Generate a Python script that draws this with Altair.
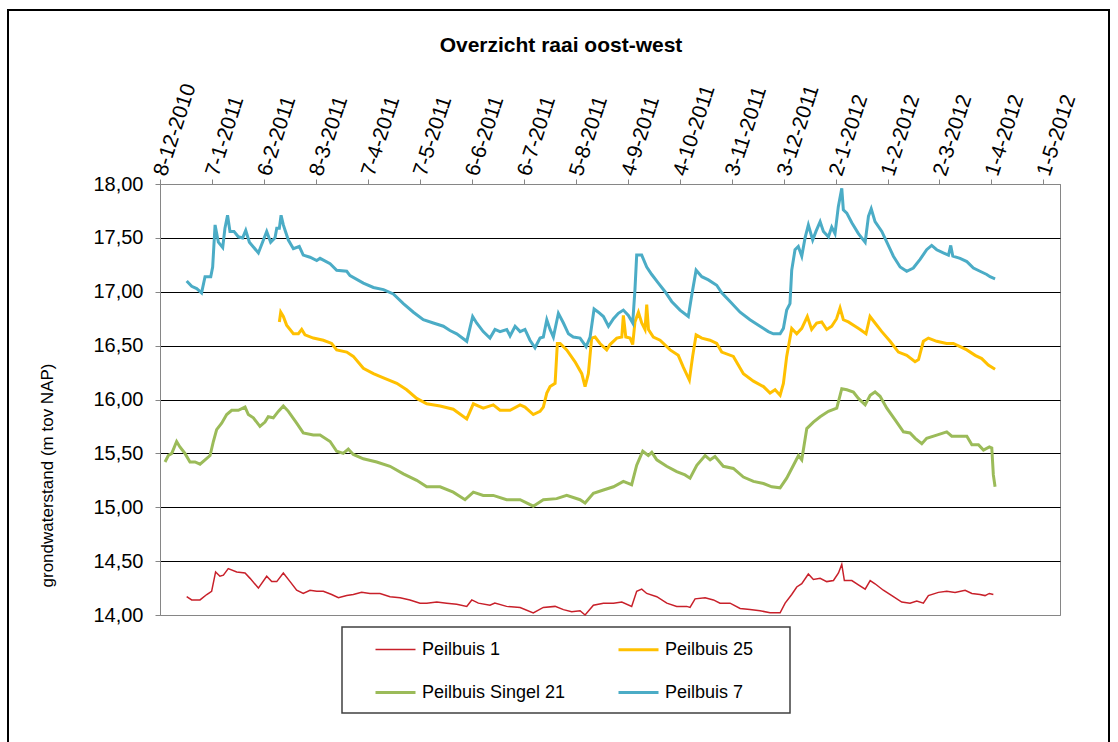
import altair as alt
import pandas as pd

# ---------------- data ----------------
# day offsets from 8-12-2010, groundwater level (m tov NAP)
SERIES = ["Peilbuis 1", "Peilbuis 25", "Peilbuis Singel 21", "Peilbuis 7"]
COLORS = ["#C8202A", "#FFC000", "#9BBB59", "#4BACC6"]
WIDTHS = [1.5, 3, 3, 3]

START_DATE = "2010-12-08"
END_DATE = "2012-05-10T14:00:00"
TICK_DATES = ["2010-12-08", "2011-01-07", "2011-02-06", "2011-03-08", "2011-04-07",
              "2011-05-07", "2011-06-06", "2011-07-06", "2011-08-05", "2011-09-04",
              "2011-10-04", "2011-11-03", "2011-12-03", "2012-01-02", "2012-02-01",
              "2012-03-02", "2012-04-01", "2012-05-01"]
Y_TICKS = [14.0, 14.5, 15.0, 15.5, 16.0, 16.5, 17.0, 17.5, 18.0]

peilbuis_1 = [(15.4, 14.17), (18.3, 14.14), (23.1, 14.14), (27, 14.19), (29.8, 14.22), (32.1, 14.40),
              (34.6, 14.36), (36.6, 14.37), (39.4, 14.43), (44.3, 14.40), (49.1, 14.39), (52, 14.34),
              (56.8, 14.25), (61.6, 14.36), (64.5, 14.31), (67.4, 14.31), (71.2, 14.39), (75.1, 14.31),
              (78.9, 14.23), (82.7, 14.20), (86.6, 14.23), (90.5, 14.22), (94.3, 14.22), (99.1, 14.19),
              (103, 14.16), (107.8, 14.18), (111.6, 14.19), (116.4, 14.21), (121.2, 14.20), (127, 14.20),
              (132.8, 14.17), (138.6, 14.16), (144.3, 14.14), (150.1, 14.11), (154, 14.11), (159.8, 14.12),
              (165.5, 14.11), (171.3, 14.10), (177.1, 14.08), (180, 14.14), (183.8, 14.11), (190.5, 14.09),
              (193.3, 14.11), (200.1, 14.08), (207.9, 14.07), (215.5, 14.02), (221.3, 14.07), (228.1, 14.08),
              (232.9, 14.05), (237.7, 14.03), (242.5, 14.04), (245.4, 14.00), (250.2, 14.09), (256, 14.11),
              (261.8, 14.11), (266.6, 14.12), (272.3, 14.08), (275.2, 14.22), (278.1, 14.24), (281, 14.20),
              (286.8, 14.17), (292.6, 14.11), (298.3, 14.08), (304.1, 14.08), (306, 14.07), (308.9, 14.15),
              (314.7, 14.16), (319.5, 14.14), (323.3, 14.11), (329.1, 14.11), (334.9, 14.06), (340.6, 14.05),
              (346.4, 14.04), (352.2, 14.02), (358, 14.02), (360.9, 14.11), (364.7, 14.19), (367.6, 14.26),
              (370.5, 14.29), (374.3, 14.38), (377.2, 14.33), (381.1, 14.34), (384.9, 14.31), (388.8, 14.32),
              (391.7, 14.39), (393.6, 14.47), (395.1, 14.32), (399.4, 14.32), (403.2, 14.28), (407.1, 14.24),
              (410, 14.32), (412.8, 14.29), (417.6, 14.23), (423.4, 14.17), (428.2, 14.12), (433, 14.11),
              (436.9, 14.13), (440.7, 14.11), (443.6, 14.18), (449.4, 14.21), (454.2, 14.22), (459, 14.21),
              (464.8, 14.23), (468.7, 14.20), (473.4, 14.19), (476.3, 14.18), (478.8, 14.20), (481.1, 14.19)]

peilbuis_25 = [(68.9, 16.72), (69.7, 16.81), (71.2, 16.77), (73.1, 16.69), (77, 16.61), (79.9, 16.61),
               (81.8, 16.65), (83.7, 16.60), (88.5, 16.57), (94.3, 16.55), (99.1, 16.52), (102, 16.46),
               (107.8, 16.44), (111.6, 16.40), (117.4, 16.29), (123.2, 16.24), (129, 16.20), (136.7, 16.15),
               (142.4, 16.09), (148.2, 16.01), (154, 15.96), (161.7, 15.94), (169.3, 15.91), (177.1, 15.82),
               (180.9, 15.96), (186.6, 15.92), (192.4, 15.95), (196.3, 15.90), (202.1, 15.90), (207.9, 15.95),
               (210.7, 15.93), (215.5, 15.86), (219.4, 15.89), (221.3, 15.93), (223.3, 16.06), (225.2, 16.12),
               (228.1, 16.15), (229.4, 16.52), (231, 16.52), (234.8, 16.46), (239.6, 16.35), (243.5, 16.24),
               (245.4, 16.12), (247.3, 16.24), (249.2, 16.57), (251.2, 16.58), (254, 16.52), (257.9, 16.46),
               (259.8, 16.51), (263.7, 16.57), (266.6, 16.58), (267.5, 16.78), (268.9, 16.58), (271.4, 16.57),
               (272.9, 16.51), (274.2, 16.72), (276.2, 16.81), (278.1, 16.71), (280, 16.65), (281, 16.88),
               (282, 16.65), (284.8, 16.58), (288.7, 16.55), (294.5, 16.46), (299.2, 16.41), (302.1, 16.30),
               (305.6, 16.18), (307.5, 16.40), (309.5, 16.60), (312.8, 16.57), (317.5, 16.55), (321.4, 16.52),
               (324.3, 16.44), (331, 16.40), (336.8, 16.24), (342.6, 16.17), (348.4, 16.12), (352.2, 16.06),
               (355.1, 16.09), (358, 16.04), (359.9, 16.15), (361.8, 16.40), (364.7, 16.66), (367.6, 16.61),
               (370.5, 16.66), (373.7, 16.77), (376.2, 16.65), (379.1, 16.71), (382, 16.72), (384.9, 16.65),
               (387.8, 16.68), (390.6, 16.75), (392.6, 16.85), (394.5, 16.74), (397.4, 16.72), (401.3, 16.68),
               (404.2, 16.65), (407.6, 16.61), (409.9, 16.77), (412.8, 16.71), (416.7, 16.63), (421.5, 16.54),
               (426.3, 16.44), (431.1, 16.41), (435.9, 16.35), (437.9, 16.37), (440.7, 16.54), (443.6, 16.57),
               (448.4, 16.54), (454.1, 16.52), (458, 16.52), (461.9, 16.49), (465.8, 16.46), (470.6, 16.41),
               (474.4, 16.38), (478.2, 16.32), (482.1, 16.28)]

peilbuis_singel_21 = [(2.9, 15.42), (4.8, 15.48), (6.8, 15.50), (9.6, 15.61), (11.5, 15.56), (14.4, 15.50),
                      (17.3, 15.42), (20.2, 15.42), (23.1, 15.40), (26, 15.44), (28.9, 15.48), (30.8, 15.61),
                      (32.7, 15.72), (35.6, 15.78), (38.5, 15.86), (41.4, 15.90), (45.2, 15.90), (49.1, 15.93),
                      (51, 15.86), (53.9, 15.83), (57.7, 15.75), (60.6, 15.79), (62.5, 15.84), (65.4, 15.83),
                      (68.3, 15.89), (71.2, 15.94), (74.1, 15.89), (78.9, 15.78), (82.7, 15.69), (88.5, 15.67),
                      (92.4, 15.67), (98.2, 15.61), (102, 15.52), (105.8, 15.50), (108.7, 15.54), (111.6, 15.49),
                      (117.4, 15.45), (125.1, 15.42), (132.8, 15.38), (140.5, 15.31), (148.2, 15.25), (154, 15.19),
                      (161.7, 15.19), (169.3, 15.14), (176.1, 15.07), (180.9, 15.14), (186.6, 15.11), (192.4, 15.11),
                      (200.1, 15.07), (207.9, 15.07), (215.5, 15.01), (221.3, 15.07), (229, 15.08), (234.8, 15.11),
                      (242.5, 15.07), (245.4, 15.04), (250.2, 15.13), (256, 15.16), (261.8, 15.19), (267.5, 15.24),
                      (272.3, 15.21), (275.2, 15.39), (278.7, 15.52), (281.9, 15.48), (283.9, 15.51), (286.8, 15.44),
                      (292.5, 15.38), (298.3, 15.33), (303.1, 15.30), (306, 15.27), (309.9, 15.39), (314.7, 15.48),
                      (317.6, 15.44), (320.4, 15.47), (325.2, 15.38), (331, 15.36), (336.8, 15.28), (342.6, 15.24),
                      (348.4, 15.22), (353.2, 15.19), (358, 15.18), (361.8, 15.27), (365.7, 15.39), (368.6, 15.48),
                      (370.5, 15.44), (373.4, 15.73), (377.2, 15.79), (381.1, 15.84), (385.9, 15.89), (390.7, 15.92),
                      (393.6, 16.10), (396.5, 16.09), (400.3, 16.07), (403.2, 16.01), (407.1, 15.95), (410, 16.04),
                      (412.8, 16.07), (415.7, 16.03), (419.6, 15.92), (424.4, 15.81), (429.2, 15.70), (433, 15.69),
                      (436, 15.64), (439.8, 15.59), (442.6, 15.64), (448.4, 15.67), (454.2, 15.70), (457.1, 15.66),
                      (461.9, 15.66), (465.8, 15.66), (468.7, 15.58), (472.5, 15.58), (475.4, 15.53), (478.8, 15.56),
                      (480.2, 15.55), (481.1, 15.30), (482.1, 15.19)]

peilbuis_7 = [(15.4, 17.10), (18.3, 17.05), (21.2, 17.03), (24, 16.99), (26, 17.14), (29.3, 17.14), (30.4, 17.23),
              (31.8, 17.62), (33.7, 17.46), (36.2, 17.41), (37.5, 17.59), (39, 17.71), (40.4, 17.56), (42.7, 17.56),
              (45.2, 17.51), (47.7, 17.50), (49.5, 17.57), (51.6, 17.46), (56.8, 17.36), (59.7, 17.48), (61.6, 17.56),
              (63.9, 17.46), (66.4, 17.50), (67.4, 17.59), (68.9, 17.59), (69.9, 17.71), (71.2, 17.62), (72.2, 17.57),
              (74.1, 17.48), (77, 17.40), (80.4, 17.42), (82.7, 17.34), (86.6, 17.32), (90.5, 17.29), (92.4, 17.31),
              (98.2, 17.26), (102, 17.20), (107.8, 17.19), (109.7, 17.15), (117.4, 17.08), (123.2, 17.04), (129, 17.02),
              (134.7, 16.98), (140.5, 16.89), (146.3, 16.81), (152, 16.74), (157.8, 16.71), (163.6, 16.68),
              (167.4, 16.64), (171.3, 16.61), (177.1, 16.54), (180.5, 16.77), (182.8, 16.71), (186.6, 16.63),
              (190.5, 16.57), (193.4, 16.65), (196.3, 16.63), (200.2, 16.65), (202.1, 16.59), (205, 16.68),
              (207.9, 16.63), (210.7, 16.65), (213.6, 16.55), (216.5, 16.48), (219.4, 16.57), (221.3, 16.58),
              (223.3, 16.74), (225.2, 16.65), (227.1, 16.58), (230, 16.80), (232.9, 16.71), (235.8, 16.61),
              (238.6, 16.58), (242.5, 16.57), (246, 16.49), (248.3, 16.58), (250.6, 16.84), (253.1, 16.81),
              (256, 16.77), (258.9, 16.68), (261.8, 16.75), (264.6, 16.80), (267.5, 16.83), (270.4, 16.78),
              (272.9, 16.71), (274.2, 17.02), (275.2, 17.34), (278.1, 17.34), (281, 17.23), (283.9, 17.16),
              (287.7, 17.08), (291.6, 17.00), (295.4, 16.91), (300.2, 16.83), (305, 16.77), (307, 16.97),
              (309.5, 17.20), (312.8, 17.14), (316.6, 17.11), (321.4, 17.06), (324.3, 16.99), (329.1, 16.91),
              (334.9, 16.81), (340.6, 16.74), (346.4, 16.68), (351.2, 16.63), (354.1, 16.61), (358, 16.61),
              (359.9, 16.66), (361.8, 16.83), (363.7, 16.89), (364.7, 17.20), (366.6, 17.39), (368.5, 17.42),
              (370.5, 17.33), (372.4, 17.50), (374.3, 17.62), (376.8, 17.48), (378.7, 17.56), (381.1, 17.65),
              (383, 17.56), (385.9, 17.51), (387.8, 17.60), (389.7, 17.54), (391.6, 17.79), (393.6, 17.96),
              (394.5, 17.76), (396.5, 17.73), (399.4, 17.64), (403.2, 17.54), (407.1, 17.46), (409, 17.70),
              (410.6, 17.77), (412.8, 17.65), (416.7, 17.56), (419.6, 17.46), (423.4, 17.33), (427.3, 17.23),
              (431.1, 17.19), (434.9, 17.22), (438.8, 17.30), (442.6, 17.39), (445.5, 17.43), (448.4, 17.39),
              (452.2, 17.36), (455.2, 17.34), (456.5, 17.43), (457.7, 17.33), (461.9, 17.31), (465.8, 17.28),
              (469.6, 17.22), (473.4, 17.19), (477.3, 17.16), (479.2, 17.14), (482.1, 17.12)]

# ---------------- table ----------------
DAY_MS = 86400000
base_ms = pd.Timestamp(START_DATE, tz="UTC").value // 10**6
end_ms = pd.Timestamp(END_DATE, tz="UTC").value // 10**6
tick_ms = [pd.Timestamp(d, tz="UTC").value // 10**6 for d in TICK_DATES]

rows = []
for name, pts in zip(SERIES, [peilbuis_1, peilbuis_25, peilbuis_singel_21, peilbuis_7]):
    for d, v in pts:
        rows.append({"t": int(base_ms + d * DAY_MS), "v": v, "s": name})
df = pd.DataFrame(rows)

FONT = "Liberation Sans"
W, H = 900, 431

legend = alt.Legend(
    orient="none", legendX=214, legendY=444, direction="horizontal", columns=2,
    title=None, symbolType="stroke", symbolSize=1600, labelFontSize=18, labelFont=FONT,
    labelColor="black", columnPadding=46, rowPadding=12, labelOffset=5, padding=0,
)

lines = alt.Chart(df).mark_line(interpolate="linear").encode(
    x=alt.X("t:T", scale=alt.Scale(type="utc", domain=[base_ms, end_ms], nice=False),
            axis=alt.Axis(orient="top", values=tick_ms, title=None,
                          labelExpr="utcFormat(datum.value, '%-d-%-m-%Y')",
                          labelAngle=288, labelAlign="left", labelBaseline="middle",
                          labelFont=FONT, labelFontSize=21, labelColor="black",
                          labelPadding=4, labelOverlap=False, labelBound=False,
                          tickSize=5, tickColor="#868686", domainColor="#868686",
                          grid=False)),
    y=alt.Y("v:Q", scale=alt.Scale(domain=[14, 18], nice=False, zero=False),
            axis=alt.Axis(values=Y_TICKS, title="grondwaterstand (m tov NAP)",
                          labelExpr="replace(format(datum.value, '.2f'), '.', ',')",
                          labelFont=FONT, labelFontSize=20, labelColor="black", labelPadding=12,
                          tickSize=5, tickColor="#868686", domainColor="#868686",
                          grid=True, gridWidth=1,
                          gridColor=alt.condition("datum.value == 14 || datum.value == 18",
                                                  alt.value("#868686"), alt.value("black")),
                          titleFont=FONT, titleFontSize=17, titleFontWeight="normal",
                          titleColor="black", titleAngle=270, titleX=-113, titleY=291,
                          titleAlign="center", titleBaseline="middle")),
    color=alt.Color("s:N", scale=alt.Scale(domain=SERIES, range=COLORS), legend=legend),
    strokeWidth=alt.StrokeWidth("s:N", scale=alt.Scale(type="ordinal", domain=SERIES, range=WIDTHS),
                                legend=legend),
    detail="s:N",
)

legend_box = alt.Chart(alt.Data(values=[{}])).mark_rect(
    fill="white", stroke="#404040", strokeWidth=1.5
).encode(x=alt.value(182), x2=alt.value(630), y=alt.value(443), y2=alt.value(529))

frame = alt.Chart(alt.Data(values=[{}])).mark_rect(
    fill=None, fillOpacity=0, stroke="black", strokeWidth=2
).encode(x=alt.value(-152), x2=alt.value(949), y=alt.value(-174), y2=alt.value(570))

chart = alt.layer(frame, legend_box, lines).properties(
    width=W, height=H,
    title=alt.TitleParams("Overzicht raai oost-west", font=FONT, fontSize=21, fontWeight="bold",
                          color="black", anchor="middle", dx=-49, dy=57, offset=10),
    autosize=alt.AutoSizeParams(type="none"),
    padding={"left": 160, "top": 184, "right": 58, "bottom": 127},
    background="white",
).configure_view(stroke="#868686", strokeWidth=1)

chart.save("out.html", embed_options={"renderer": "svg", "actions": False})
